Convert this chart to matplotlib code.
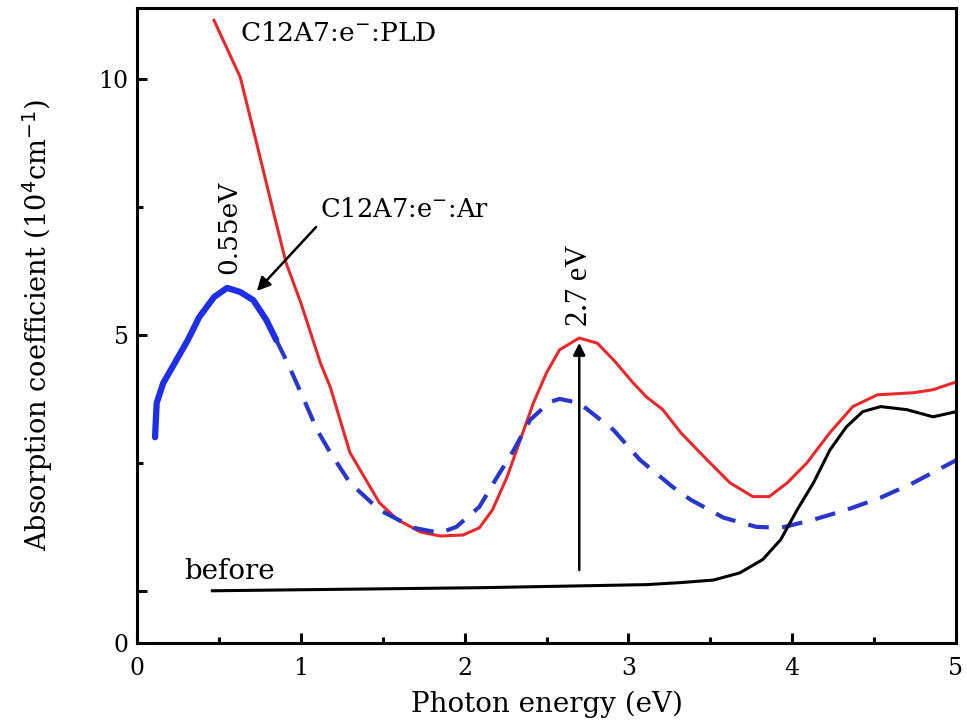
import numpy as np
import matplotlib
matplotlib.use("Agg")
import matplotlib.pyplot as plt

# values (photon energy in eV, absorption in 10^4 cm^-1)
pld_x = [0.47, 0.63, 0.73, 0.83, 0.91, 1.00, 1.12, 1.18, 1.30, 1.48, 1.59, 1.73, 1.85,
         1.99, 2.09, 2.17, 2.26, 2.34, 2.42, 2.50, 2.58, 2.70, 2.81, 2.91, 3.03, 3.11,
         3.21, 3.32, 3.48, 3.62, 3.76, 3.86, 3.97, 4.09, 4.23, 4.37, 4.52, 4.74, 4.86,
         5.00]
pld_y = [11.15, 10.04, 8.75, 7.44, 6.41, 5.63, 4.45, 3.98, 2.70, 1.72, 1.39, 1.15, 1.07,
         1.09, 1.23, 1.58, 2.23, 2.95, 3.67, 4.26, 4.71, 4.94, 4.84, 4.51, 4.06, 3.79,
         3.54, 3.09, 2.56, 2.11, 1.84, 1.84, 2.11, 2.50, 3.09, 3.60, 3.83, 3.87, 3.93,
         4.08]

ar_meas_x = [0.11, 0.12, 0.16, 0.23, 0.31, 0.38, 0.47, 0.55, 0.63, 0.71, 0.79, 0.85]
ar_meas_y = [3.00, 3.67, 4.06, 4.45, 4.90, 5.35, 5.74, 5.92, 5.84, 5.68, 5.29, 4.90]

ar_fit_x = [0.85, 0.92, 1.02, 1.10, 1.18, 1.30, 1.48, 1.69, 1.85, 1.95, 2.09, 2.20,
            2.30, 2.40, 2.52, 2.58, 2.70, 2.91, 3.07, 3.27, 3.38, 3.58, 3.78, 3.93,
            4.13, 4.33, 4.54, 4.74, 5.00]
ar_fit_y = [4.90, 4.45, 3.73, 3.14, 2.70, 2.11, 1.58, 1.23, 1.13, 1.25, 1.64, 2.23,
            2.75, 3.34, 3.69, 3.75, 3.67, 3.14, 2.56, 2.03, 1.78, 1.43, 1.25, 1.23,
            1.39, 1.58, 1.82, 2.11, 2.55]

before_x = [0.46, 1.00, 2.09, 3.11, 3.32, 3.52, 3.68, 3.82, 3.93, 4.03, 4.13, 4.23,
            4.33, 4.43, 4.54, 4.70, 4.86, 5.00]
before_y = [0.00, 0.02, 0.06, 0.12, 0.16, 0.21, 0.35, 0.61, 1.00, 1.58, 2.11, 2.75,
            3.20, 3.50, 3.60, 3.54, 3.40, 3.50]

xticks = [0, 1, 2, 3, 4, 5]
ylim = (-1.02, 11.39)
yticks = [ylim[0], 0, 5, 10]
yticklabels = ["0", "", "5", "10"]

serif = ["DejaVu Serif"]

fig = plt.figure(figsize=(9.67, 7.23), dpi=100)
ax = fig.add_axes([0.1417, 0.1107, 0.8469, 0.8782])

ax.plot(pld_x, pld_y, color="#e8292b", lw=2.2)
ax.plot(ar_meas_x, ar_meas_y, color="#1f2fe8", lw=4.5, solid_capstyle="round")
ax.plot(ar_fit_x, ar_fit_y, color="#2a36c8", lw=3, dashes=(5, 3.2))
ax.plot(before_x, before_y, color="black", lw=2.2)

# labels on the curves
ax.text(0.63, 10.9, "C12A7:e$^{-}$:PLD", family=serif, fontsize=19, va="center")
ax.text(1.12, 7.45, "C12A7:e$^{-}$:Ar", family=serif, fontsize=18.5, va="center")
ax.annotate("", xy=(0.72, 5.82), xytext=(1.105, 7.15),
            arrowprops=dict(arrowstyle="-|>", color="black", lw=1.8,
                            mutation_scale=20))
ax.text(0.56, 7.1, "0.55eV", family=serif, fontsize=19, rotation=90,
        ha="center", va="center")
ax.annotate("", xy=(2.70, 4.90), xytext=(2.70, 0.35),
            arrowprops=dict(arrowstyle="-|>", color="black", lw=1.8,
                            mutation_scale=18))
ax.text(2.70, 5.98, "2.7 eV", family=["Liberation Serif"], fontsize=22, rotation=90,
        ha="center", va="center")
ax.text(0.29, 0.12, "before", family=serif, fontsize=20, va="bottom")

ax.set_xlim(0, 5)
ax.set_ylim(*ylim)
ax.set_xticks(xticks)
ax.set_xticks(np.arange(0.5, 5, 1.0), minor=True)
ax.set_yticks(yticks)
ax.set_yticklabels(yticklabels)
ax.set_yticks([2.5, 7.5], minor=True)
ax.tick_params(which="major", direction="in", length=7, width=2.2,
               labelsize=17)
ax.tick_params(axis="x", which="major", pad=10)
ax.tick_params(axis="y", which="major", pad=6)
ax.tick_params(which="minor", direction="in", length=4, width=2.2)
for lab in ax.get_xticklabels() + ax.get_yticklabels():
    lab.set_family(serif)
for sp in ax.spines.values():
    sp.set_linewidth(2.2)

ax.set_xlabel("Photon energy (eV)", family=serif, fontsize=20, labelpad=8)
ax.set_ylabel("Absorption coefficient (10$^{4}$cm$^{-1}$)", family=serif,
              fontsize=19.5)
ax.yaxis.set_label_coords(-0.100, 0.5)

fig.savefig("out.png", dpi=100)
